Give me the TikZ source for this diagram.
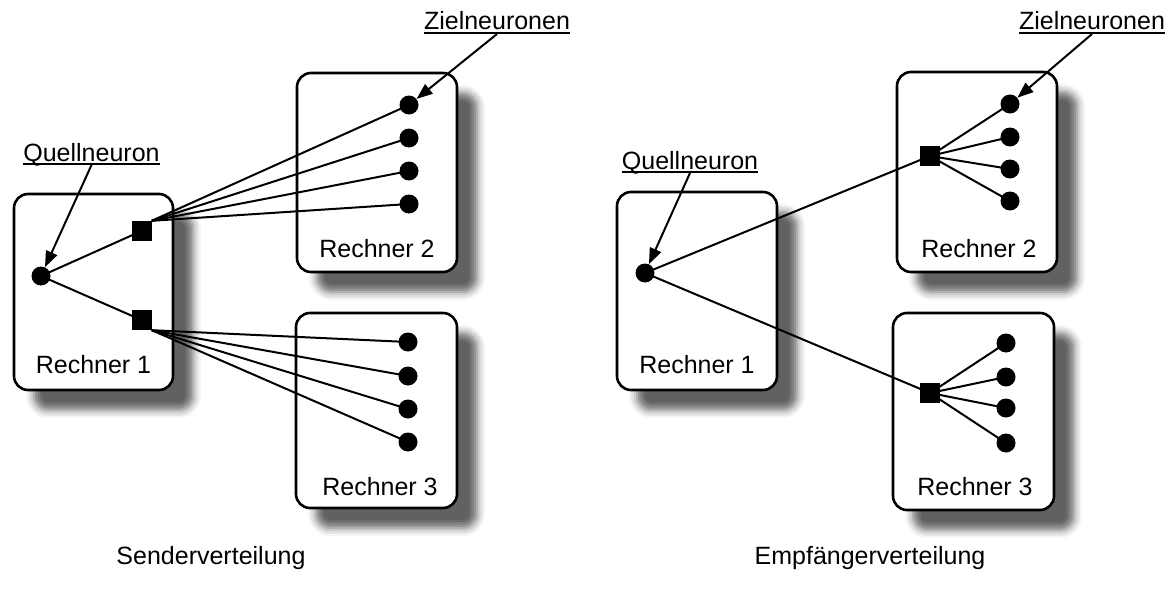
\documentclass[tikz,border=0pt]{standalone}
\usepackage{fontspec}
\setmainfont{Liberation Sans}
\usetikzlibrary{arrows.meta,shadows.blur}
\pgfdeclarelayer{boxlayer}
\pgfdeclarelayer{linelayer}
\pgfsetlayers{boxlayer,linelayer,main}
\begin{document}
\begin{tikzpicture}[x=1pt,y=-1pt,
  every node/.style={font=\fontsize{25}{30}\selectfont},
  box/.style={draw=black,line width=2.6pt,fill=white,rounded corners=14pt,
    inner sep=0pt,
    blur shadow={shadow xshift=20pt,shadow yshift=-20pt,shadow blur radius=8pt,shadow opacity=62}},
  dot/.style={circle,fill=black,inner sep=0pt,minimum size=19pt},
  sq/.style={rectangle,fill=black,inner sep=0pt,minimum size=20pt},
  lbl/.style={anchor=base,inner sep=0pt},
  conn/.style={line width=2pt},
  ptr/.style={line width=2pt,-{Triangle[length=16pt,width=12pt]}},
  ul/.style={line width=2pt}
]
\useasboundingbox (0,0) rectangle (1176,594);

% ---------- boxes ----------
\begin{pgfonlayer}{boxlayer}
\node[box,minimum width=159pt,minimum height=196pt] (lr1) at (93.5,292) {};
\node[box,minimum width=160pt,minimum height=199pt] (lr2) at (377,172.5) {};
\node[box,minimum width=161pt,minimum height=195pt] (lr3) at (376.5,410.5) {};
\node[box,minimum width=160pt,minimum height=198pt] (rr1) at (697,291) {};
\node[box,minimum width=160pt,minimum height=200pt] (rr2) at (977,172) {};
\node[box,minimum width=161pt,minimum height=197pt] (rr3) at (973.5,411.5) {};
\end{pgfonlayer}

% ---------- left: Senderverteilung ----------
\node[lbl] (lt1) at (93.5,373) {Rechner 1};
\node[lbl] (lt2) at (377,257) {Rechner 2};
\node[lbl] (lt3) at (380,495) {Rechner 3};

\node[dot] (ls) at (41,276) {};
\node[sq] (la) at (141.5,231) {};
\node[sq] (lb) at (141.5,320) {};

\node[dot] (lu1) at (409,105) {};
\node[dot] (lu2) at (409,138) {};
\node[dot] (lu3) at (409,171) {};
\node[dot] (lu4) at (409,204) {};
\node[dot] (ld1) at (408,342) {};
\node[dot] (ld2) at (408,376) {};
\node[dot] (ld3) at (408,409) {};
\node[dot] (ld4) at (408,442) {};

\begin{pgfonlayer}{linelayer}
\draw[conn] (ls.center) -- (la.center);
\draw[conn] (ls.center) -- (lb.center);
\foreach \i in {1,2,3,4} {
  \draw[conn] (la.north east) -- (lu\i.center);
  \draw[conn] (lb.south east) -- (ld\i.center);
}
\end{pgfonlayer}

\node[lbl] (lq) at (91.5,161) {Quellneuron};
\draw[ul] ([yshift=-3pt]lq.base west) -- ([yshift=-3pt]lq.base east);
\draw[ptr] ([yshift=-4pt]lq.base) -- (ls);

\node[lbl] (lz) at (497,30) {Zielneuronen};
\draw[ul] ([yshift=-3pt]lz.base west) -- ([yshift=-3pt]lz.base east);
\draw[ptr] ([yshift=-4pt]lz.base) -- (lu1);

\node[lbl] (lcap) at (211,564) {Senderverteilung};

% ---------- right: Empfaengerverteilung ----------
\node[lbl] (rt1) at (697,373) {Rechner 1};
\node[lbl] (rt2) at (979,257) {Rechner 2};
\node[lbl] (rt3) at (975,495) {Rechner 3};

\node[dot] (rs) at (645,273) {};
\node[sq] (ra) at (930,156) {};
\node[sq] (rb) at (930,393) {};

\node[dot] (ru1) at (1010,104) {};
\node[dot] (ru2) at (1010,137) {};
\node[dot] (ru3) at (1010,169) {};
\node[dot] (ru4) at (1010,201) {};
\node[dot] (rd1) at (1006,343) {};
\node[dot] (rd2) at (1006,377) {};
\node[dot] (rd3) at (1006,408) {};
\node[dot] (rd4) at (1006,443) {};

\begin{pgfonlayer}{linelayer}
\draw[conn] (rs.center) -- (ra.center);
\draw[conn] (rs.center) -- (rb.center);
\foreach \i in {1,2,3,4} {
  \draw[conn] (ra.center) -- (ru\i.center);
  \draw[conn] (rb.center) -- (rd\i.center);
}
\end{pgfonlayer}

\node[lbl] (rq) at (690,169) {Quellneuron};
\draw[ul] ([yshift=-3pt]rq.base west) -- ([yshift=-3pt]rq.base east);
\draw[ptr] ([yshift=-4pt]rq.base) -- (rs);

\node[lbl] (rz) at (1092,30) {Zielneuronen};
\draw[ul] ([yshift=-3pt]rz.base west) -- ([yshift=-3pt]rz.base east);
\draw[ptr] ([yshift=-4pt]rz.base) -- (ru1);

\node[lbl] (rcap) at (870,564) {Empfängerverteilung};
\end{tikzpicture}
\end{document}
